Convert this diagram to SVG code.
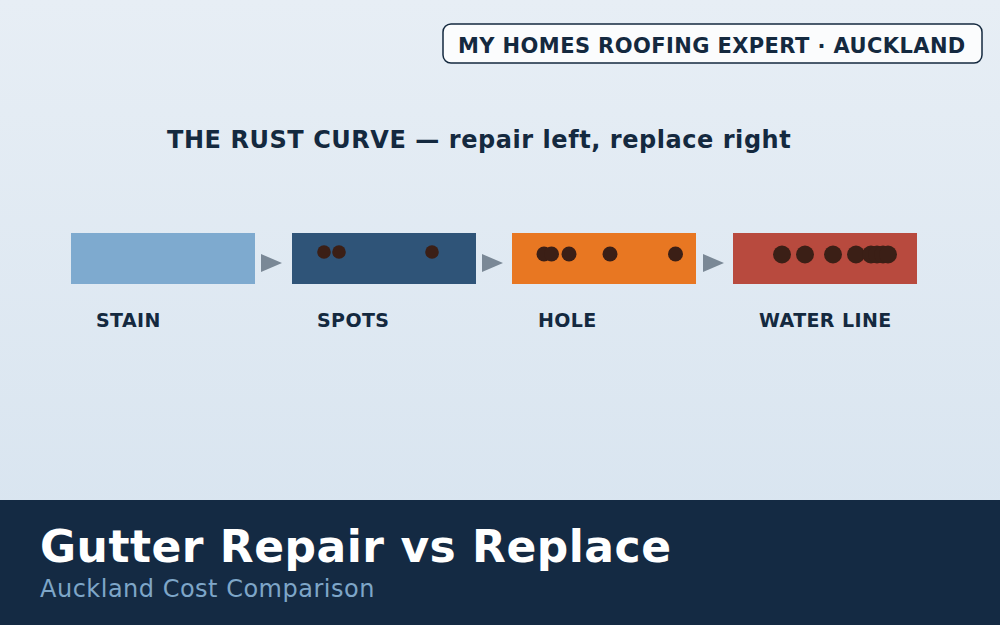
<svg xmlns="http://www.w3.org/2000/svg" width="1000" height="625" viewBox="0 0 1000 625">
<defs>
<linearGradient id="bg" x1="0" y1="0" x2="0" y2="1">
<stop offset="0" stop-color="#e7eef5"/>
<stop offset="1" stop-color="#d6e3ef"/>
</linearGradient>
<style>
.lbl{font-family:"DejaVu Sans",sans-serif;font-weight:bold;font-size:19px;letter-spacing:0.4px;fill:#14293f}
.dot{fill:#3b1f16}
.arr{fill:#7a8896}
</style>
</defs>
<rect x="0" y="0" width="1000" height="625" fill="url(#bg)"/>
<g id="brand">
<rect x="443" y="24" width="539" height="39" rx="8" fill="#fbfcfd" stroke="#14293f" stroke-width="1.5"/>
<text x="458" y="52.5" font-family="DejaVu Sans, sans-serif" font-weight="bold" font-size="21" letter-spacing="0.4" fill="#14293f">MY HOMES ROOFING EXPERT · AUCKLAND</text>
</g>
<text id="heading" x="167" y="148" font-family="DejaVu Sans, sans-serif" font-weight="bold" font-size="24" letter-spacing="0.55" fill="#14293f">THE RUST CURVE — repair left, replace right</text>
<g id="connectors">
<polygon class="arr" points="261,254 261,272 282,263"/>
<polygon class="arr" points="482,254 482,272 503,263"/>
<polygon class="arr" points="703,254 703,272 724,263"/>
</g>
<g id="stain">
<rect x="71" y="233" width="184" height="51" fill="#7eaacf"/>
<text class="lbl" x="96" y="327">STAIN</text>
</g>
<g id="spots">
<rect x="292" y="233" width="184" height="51" fill="#2f5478"/>
<circle class="dot" cx="324" cy="252" r="6.8"/>
<circle class="dot" cx="339" cy="252" r="6.8"/>
<circle class="dot" cx="432" cy="252" r="6.8"/>
<text class="lbl" x="317" y="327">SPOTS</text>
</g>
<g id="hole">
<rect x="512" y="233" width="184" height="51" fill="#e87722"/>
<circle class="dot" cx="544" cy="254" r="7.5"/>
<circle class="dot" cx="551.5" cy="254" r="7.5"/>
<circle class="dot" cx="569" cy="254" r="7.5"/>
<circle class="dot" cx="610" cy="254" r="7.5"/>
<circle class="dot" cx="675.5" cy="254" r="7.5"/>
<text class="lbl" x="538" y="327">HOLE</text>
</g>
<g id="waterline">
<rect x="733" y="233" width="184" height="51" fill="#b84a3e"/>
<circle class="dot" cx="782" cy="254.5" r="9"/>
<circle class="dot" cx="805" cy="254.5" r="9"/>
<circle class="dot" cx="833" cy="254.5" r="9"/>
<circle class="dot" cx="856" cy="254.5" r="9"/>
<circle class="dot" cx="871" cy="254.5" r="9"/>
<circle class="dot" cx="877" cy="254.5" r="9"/>
<circle class="dot" cx="883" cy="254.5" r="9"/>
<circle class="dot" cx="888" cy="254.5" r="9"/>
<text class="lbl" x="759" y="327">WATER LINE</text>
</g>
<g id="banner">
<rect x="0" y="500" width="1000" height="125" fill="#142a43"/>
<text x="40" y="562" font-family="DejaVu Sans, sans-serif" font-weight="bold" font-size="44" letter-spacing="0.5" fill="#ffffff">Gutter Repair vs Replace</text>
<text x="40" y="597" font-family="DejaVu Sans, sans-serif" font-size="24" letter-spacing="0.5" fill="#7ea6c8">Auckland Cost Comparison</text>
</g>
</svg>
